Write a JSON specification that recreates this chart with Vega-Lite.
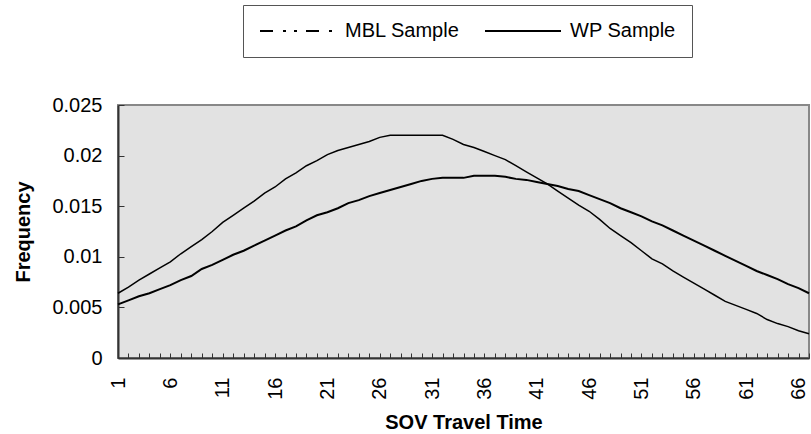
{
  "$schema": "https://vega.github.io/schema/vega-lite/v6.json",
  "width": 691,
  "height": 253,
  "autosize": {"type": "none"},
  "padding": {"left": 118, "top": 105, "right": 2, "bottom": 76},
  "background": "white",
  "config": {
    "view": {"fill": "#e2e2e2", "stroke": "#888888", "strokeWidth": 2},
    "font": "Liberation Sans",
    "axis": {
      "grid": false,
      "domainColor": "#333333",
      "domainWidth": 2,
      "tickColor": "#333333",
      "tickWidth": 1,
      "labelFont": "Liberation Sans",
      "labelFontSize": 20,
      "labelColor": "black",
      "titleFont": "Liberation Sans",
      "titleFontSize": 20,
      "titleFontWeight": "bold",
      "titleColor": "black"
    }
  },
  "data": {
    "values": [
      {"t": 1, "freq": 0.0064, "series": "WP Sample"},
      {"t": 2, "freq": 0.0070, "series": "WP Sample"},
      {"t": 3, "freq": 0.0077, "series": "WP Sample"},
      {"t": 4, "freq": 0.0083, "series": "WP Sample"},
      {"t": 5, "freq": 0.0089, "series": "WP Sample"},
      {"t": 6, "freq": 0.0095, "series": "WP Sample"},
      {"t": 7, "freq": 0.0103, "series": "WP Sample"},
      {"t": 8, "freq": 0.0110, "series": "WP Sample"},
      {"t": 9, "freq": 0.0117, "series": "WP Sample"},
      {"t": 10, "freq": 0.0125, "series": "WP Sample"},
      {"t": 11, "freq": 0.0134, "series": "WP Sample"},
      {"t": 12, "freq": 0.0141, "series": "WP Sample"},
      {"t": 13, "freq": 0.0148, "series": "WP Sample"},
      {"t": 14, "freq": 0.0155, "series": "WP Sample"},
      {"t": 15, "freq": 0.0163, "series": "WP Sample"},
      {"t": 16, "freq": 0.0169, "series": "WP Sample"},
      {"t": 17, "freq": 0.0177, "series": "WP Sample"},
      {"t": 18, "freq": 0.0183, "series": "WP Sample"},
      {"t": 19, "freq": 0.0190, "series": "WP Sample"},
      {"t": 20, "freq": 0.0195, "series": "WP Sample"},
      {"t": 21, "freq": 0.0201, "series": "WP Sample"},
      {"t": 22, "freq": 0.0205, "series": "WP Sample"},
      {"t": 23, "freq": 0.0208, "series": "WP Sample"},
      {"t": 24, "freq": 0.0211, "series": "WP Sample"},
      {"t": 25, "freq": 0.0214, "series": "WP Sample"},
      {"t": 26, "freq": 0.0218, "series": "WP Sample"},
      {"t": 27, "freq": 0.0220, "series": "WP Sample"},
      {"t": 28, "freq": 0.0220, "series": "WP Sample"},
      {"t": 29, "freq": 0.0220, "series": "WP Sample"},
      {"t": 30, "freq": 0.0220, "series": "WP Sample"},
      {"t": 31, "freq": 0.0220, "series": "WP Sample"},
      {"t": 32, "freq": 0.0220, "series": "WP Sample"},
      {"t": 33, "freq": 0.0216, "series": "WP Sample"},
      {"t": 34, "freq": 0.0211, "series": "WP Sample"},
      {"t": 35, "freq": 0.0208, "series": "WP Sample"},
      {"t": 36, "freq": 0.0204, "series": "WP Sample"},
      {"t": 37, "freq": 0.0200, "series": "WP Sample"},
      {"t": 38, "freq": 0.0196, "series": "WP Sample"},
      {"t": 39, "freq": 0.0190, "series": "WP Sample"},
      {"t": 40, "freq": 0.0184, "series": "WP Sample"},
      {"t": 41, "freq": 0.0178, "series": "WP Sample"},
      {"t": 42, "freq": 0.0172, "series": "WP Sample"},
      {"t": 43, "freq": 0.0165, "series": "WP Sample"},
      {"t": 44, "freq": 0.0158, "series": "WP Sample"},
      {"t": 45, "freq": 0.0151, "series": "WP Sample"},
      {"t": 46, "freq": 0.0145, "series": "WP Sample"},
      {"t": 47, "freq": 0.0137, "series": "WP Sample"},
      {"t": 48, "freq": 0.0128, "series": "WP Sample"},
      {"t": 49, "freq": 0.0121, "series": "WP Sample"},
      {"t": 50, "freq": 0.0114, "series": "WP Sample"},
      {"t": 51, "freq": 0.0106, "series": "WP Sample"},
      {"t": 52, "freq": 0.0098, "series": "WP Sample"},
      {"t": 53, "freq": 0.0093, "series": "WP Sample"},
      {"t": 54, "freq": 0.0086, "series": "WP Sample"},
      {"t": 55, "freq": 0.0080, "series": "WP Sample"},
      {"t": 56, "freq": 0.0074, "series": "WP Sample"},
      {"t": 57, "freq": 0.0068, "series": "WP Sample"},
      {"t": 58, "freq": 0.0062, "series": "WP Sample"},
      {"t": 59, "freq": 0.0056, "series": "WP Sample"},
      {"t": 60, "freq": 0.0052, "series": "WP Sample"},
      {"t": 61, "freq": 0.0048, "series": "WP Sample"},
      {"t": 62, "freq": 0.0044, "series": "WP Sample"},
      {"t": 63, "freq": 0.0038, "series": "WP Sample"},
      {"t": 64, "freq": 0.0034, "series": "WP Sample"},
      {"t": 65, "freq": 0.0031, "series": "WP Sample"},
      {"t": 66, "freq": 0.0027, "series": "WP Sample"},
      {"t": 67, "freq": 0.0024, "series": "WP Sample"},
      {"t": 1, "freq": 0.0053, "series": "MBL Sample"},
      {"t": 2, "freq": 0.0057, "series": "MBL Sample"},
      {"t": 3, "freq": 0.0061, "series": "MBL Sample"},
      {"t": 4, "freq": 0.0064, "series": "MBL Sample"},
      {"t": 5, "freq": 0.0068, "series": "MBL Sample"},
      {"t": 6, "freq": 0.0072, "series": "MBL Sample"},
      {"t": 7, "freq": 0.0077, "series": "MBL Sample"},
      {"t": 8, "freq": 0.0081, "series": "MBL Sample"},
      {"t": 9, "freq": 0.0088, "series": "MBL Sample"},
      {"t": 10, "freq": 0.0092, "series": "MBL Sample"},
      {"t": 11, "freq": 0.0097, "series": "MBL Sample"},
      {"t": 12, "freq": 0.0102, "series": "MBL Sample"},
      {"t": 13, "freq": 0.0106, "series": "MBL Sample"},
      {"t": 14, "freq": 0.0111, "series": "MBL Sample"},
      {"t": 15, "freq": 0.0116, "series": "MBL Sample"},
      {"t": 16, "freq": 0.0121, "series": "MBL Sample"},
      {"t": 17, "freq": 0.0126, "series": "MBL Sample"},
      {"t": 18, "freq": 0.0130, "series": "MBL Sample"},
      {"t": 19, "freq": 0.0136, "series": "MBL Sample"},
      {"t": 20, "freq": 0.0141, "series": "MBL Sample"},
      {"t": 21, "freq": 0.0144, "series": "MBL Sample"},
      {"t": 22, "freq": 0.0148, "series": "MBL Sample"},
      {"t": 23, "freq": 0.0153, "series": "MBL Sample"},
      {"t": 24, "freq": 0.0156, "series": "MBL Sample"},
      {"t": 25, "freq": 0.0160, "series": "MBL Sample"},
      {"t": 26, "freq": 0.0163, "series": "MBL Sample"},
      {"t": 27, "freq": 0.0166, "series": "MBL Sample"},
      {"t": 28, "freq": 0.0169, "series": "MBL Sample"},
      {"t": 29, "freq": 0.0172, "series": "MBL Sample"},
      {"t": 30, "freq": 0.0175, "series": "MBL Sample"},
      {"t": 31, "freq": 0.0177, "series": "MBL Sample"},
      {"t": 32, "freq": 0.0178, "series": "MBL Sample"},
      {"t": 33, "freq": 0.0178, "series": "MBL Sample"},
      {"t": 34, "freq": 0.0178, "series": "MBL Sample"},
      {"t": 35, "freq": 0.0180, "series": "MBL Sample"},
      {"t": 36, "freq": 0.0180, "series": "MBL Sample"},
      {"t": 37, "freq": 0.0180, "series": "MBL Sample"},
      {"t": 38, "freq": 0.0179, "series": "MBL Sample"},
      {"t": 39, "freq": 0.0177, "series": "MBL Sample"},
      {"t": 40, "freq": 0.0176, "series": "MBL Sample"},
      {"t": 41, "freq": 0.0174, "series": "MBL Sample"},
      {"t": 42, "freq": 0.0172, "series": "MBL Sample"},
      {"t": 43, "freq": 0.0170, "series": "MBL Sample"},
      {"t": 44, "freq": 0.0167, "series": "MBL Sample"},
      {"t": 45, "freq": 0.0165, "series": "MBL Sample"},
      {"t": 46, "freq": 0.0161, "series": "MBL Sample"},
      {"t": 47, "freq": 0.0157, "series": "MBL Sample"},
      {"t": 48, "freq": 0.0153, "series": "MBL Sample"},
      {"t": 49, "freq": 0.0148, "series": "MBL Sample"},
      {"t": 50, "freq": 0.0144, "series": "MBL Sample"},
      {"t": 51, "freq": 0.0140, "series": "MBL Sample"},
      {"t": 52, "freq": 0.0135, "series": "MBL Sample"},
      {"t": 53, "freq": 0.0131, "series": "MBL Sample"},
      {"t": 54, "freq": 0.0126, "series": "MBL Sample"},
      {"t": 55, "freq": 0.0121, "series": "MBL Sample"},
      {"t": 56, "freq": 0.0116, "series": "MBL Sample"},
      {"t": 57, "freq": 0.0111, "series": "MBL Sample"},
      {"t": 58, "freq": 0.0106, "series": "MBL Sample"},
      {"t": 59, "freq": 0.0101, "series": "MBL Sample"},
      {"t": 60, "freq": 0.0096, "series": "MBL Sample"},
      {"t": 61, "freq": 0.0091, "series": "MBL Sample"},
      {"t": 62, "freq": 0.0086, "series": "MBL Sample"},
      {"t": 63, "freq": 0.0082, "series": "MBL Sample"},
      {"t": 64, "freq": 0.0078, "series": "MBL Sample"},
      {"t": 65, "freq": 0.0073, "series": "MBL Sample"},
      {"t": 66, "freq": 0.0069, "series": "MBL Sample"},
      {"t": 67, "freq": 0.0064, "series": "MBL Sample"}
    ]
  },
  "encoding": {
    "x": {
      "field": "t",
      "type": "quantitative",
      "scale": {"domain": [1, 67], "nice": false, "zero": false},
      "axis": {
        "title": "SOV Travel Time",
        "values": [1,2,3,4,5,6,7,8,9,10,11,12,13,14,15,16,17,18,19,20,21,22,23,24,25,26,27,28,29,30,31,32,33,34,35,36,37,38,39,40,41,42,43,44,45,46,47,48,49,50,51,52,53,54,55,56,57,58,59,60,61,62,63,64,65,66,67],
        "labelExpr": "(datum.value - 1) % 5 === 0 ? datum.label : ''",
        "labelAngle": -90,
        "tickSize": -5,
        "labelPadding": 24,
        "labelFlush": false,
        "labelOverlap": false,
        "labelBound": false,
        "titleY": 64,
        "titleBaseline": "middle"
      }
    },
    "y": {
      "field": "freq",
      "type": "quantitative",
      "scale": {"domain": [0, 0.025], "nice": false},
      "axis": {
        "title": "Frequency",
        "values": [0, 0.005, 0.01, 0.015, 0.02, 0.025],
        "format": "~g",
        "tickSize": -6,
        "labelPadding": 22,
        "labelFlush": false,
        "titleX": -95,
        "titleY": 126.5,
        "titleAlign": "center",
        "titleBaseline": "middle"
      }
    }
  },
  "layer": [
    {
      "transform": [{"filter": "datum.series === 'MBL Sample'"}],
      "mark": {"type": "line", "color": "black", "strokeWidth": 2},
      "encoding": {}
    },
    {
      "transform": [{"filter": "datum.series === 'WP Sample'"}],
      "mark": {"type": "line", "color": "black", "strokeWidth": 1.5},
      "encoding": {}
    },
    {
      "mark": {"type": "line", "color": "black", "strokeOpacity": 0},
      "encoding": {
        "strokeDash": {
          "field": "series",
          "type": "nominal",
          "scale": {"domain": ["MBL Sample", "WP Sample"], "range": [[13, 10, 3, 8, 3, 9], [1, 0]]},
          "legend": {
            "title": null,
            "orient": "none",
            "legendX": 125,
            "legendY": -100,
            "direction": "horizontal",
            "symbolType": "stroke",
            "symbolSize": 5776,
            "symbolStrokeColor": "black",
            "symbolStrokeWidth": 2,
            "symbolOpacity": 1,
            "clipHeight": 20,
            "labelFont": "Liberation Sans",
            "labelFontSize": 20,
            "labelColor": "black",
            "labelOffset": 8,
            "columnPadding": 24,
            "padding": 16,
            "strokeColor": "#555555",
            "fillColor": "white",
            "encode": {
              "symbols": {
                "update": {
                  "strokeOpacity": {"value": 1},
                  "opacity": {"value": 1}
                }
              }
            }
          }
        }
      }
    }
  ]
}
